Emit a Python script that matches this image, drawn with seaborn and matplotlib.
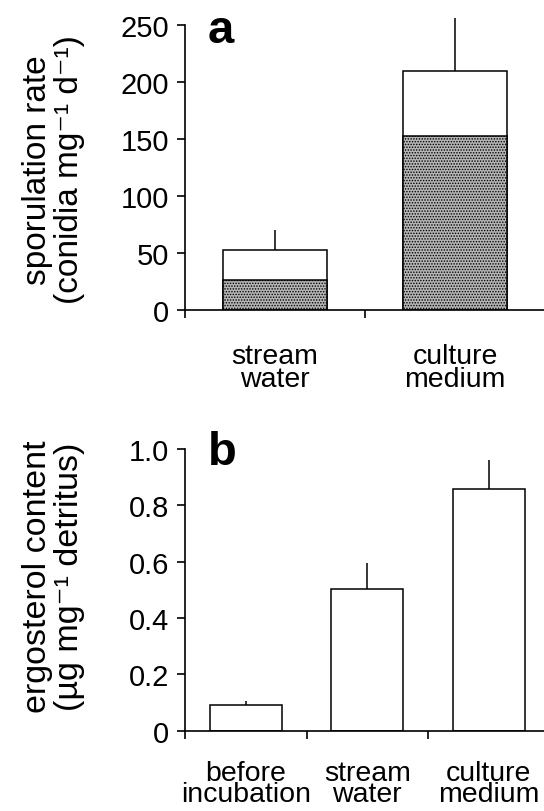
import numpy as np
import pandas as pd
import matplotlib
matplotlib.use("Agg")
import matplotlib.pyplot as plt
import seaborn as sns

# ---- data (panel a) ----
categories_a = ["stream\nwater", "culture\nmedium"]
total_a = [53, 210]          # total sporulation rate (white + shaded)
shaded_a = [26, 153]         # shaded (lower) portion
err_a = [17.5, 46]           # upper error
yticks_a = [0, 50, 100, 150, 200, 250]
yticklabels_a = ["0", "50", "100", "150", "200", "250"]

# ---- data (panel b) ----
categories_b = ["before\nincubation", "stream\nwater", "culture\nmedium"]
ergosterol_b = [0.091, 0.503, 0.858]
err_b = [0.016, 0.093, 0.102]
yticks_b = [0, 0.2, 0.4, 0.6, 0.8, 1.0]
yticklabels_b = ["0", "0.2", "0.4", "0.6", "0.8", "1.0"]

sns.set_theme(style="ticks")
plt.rcParams["font.family"] = ["Liberation Sans", "DejaVu Sans"]
plt.rcParams["hatch.linewidth"] = 0.7
plt.rcParams["hatch.color"] = "#222222"
for key in ["text.color", "axes.labelcolor", "xtick.color", "ytick.color", "axes.edgecolor"]:
    plt.rcParams[key] = "black"

fig = plt.figure(figsize=(5.44, 8.12), dpi=100)
W, H = 544.0, 812.0
ax_a = fig.add_axes([185 / W, 1 - 311 / H, 360 / W, 285 / H])
ax_b = fig.add_axes([185 / W, 1 - 731.7 / H, 364.5 / W, 281.7 / H])

LW = 1.2


def style_axis(ax, n, yticks, yticklabels, ymax, pad, ls):
    ax.set_xlim(-0.5, n - 0.5)
    ax.set_ylim(0, ymax)
    ax.set_yticks(yticks)
    ax.set_yticklabels(yticklabels, fontsize=21)
    ax.tick_params(axis="y", direction="out", length=5.5, width=LW, pad=6,
                   colors="black", labelcolor="black")
    ax.tick_params(axis="x", which="major", length=0, pad=pad, labelsize=20.5,
                   labelcolor="black")
    ax.set_xticks(np.arange(n) - 0.5, minor=True)
    ax.tick_params(axis="x", which="minor", direction="out", length=6, width=LW,
                   color="black")
    for lab in ax.get_xticklabels():
        lab.set_linespacing(ls)
        lab.set_multialignment("center")
    for s in ["top", "right"]:
        ax.spines[s].set_visible(False)
    for s in ["left", "bottom"]:
        ax.spines[s].set_linewidth(LW)
        ax.spines[s].set_color("black")
    ax.set_xlabel("")
    ax.set_facecolor("white")


# ---- panel a ----
df_a = pd.DataFrame({"cat": categories_a, "total": total_a, "shaded": shaded_a})
sns.barplot(data=df_a, x="cat", y="total", ax=ax_a, color="white", saturation=1,
            edgecolor="black", linewidth=1.1, width=0.58, errorbar=None)
sns.barplot(data=df_a, x="cat", y="shaded", ax=ax_a, color="#b5b5b5", saturation=1,
            edgecolor="black", linewidth=1.1, width=0.58, errorbar=None, hatch="......")
eb = ax_a.errorbar(np.arange(len(categories_a)), total_a,
                   yerr=[np.zeros(len(err_a)), err_a], fmt="none",
                   ecolor="black", elinewidth=1.1, capsize=0)
for c in eb.get_children():
    c.set_clip_on(False)
style_axis(ax_a, len(categories_a), yticks_a, yticklabels_a, 250, 23.5, 0.88)
ax_a.set_ylabel("sporulation rate\n(conidia mg\u207b\u00b9 d\u207b\u00b9)", fontsize=24,
                linespacing=1.05, color="black")
ax_a.yaxis.set_label_coords(-0.365, 0.495)
ax_a.yaxis.label.set_va("center")
ax_a.text(0.063, 0.94, "a", transform=ax_a.transAxes, fontsize=34,
          fontweight="bold", ha="left", va="baseline", color="black")

# ---- panel b ----
df_b = pd.DataFrame({"cat": categories_b, "erg": ergosterol_b})
sns.barplot(data=df_b, x="cat", y="erg", ax=ax_b, color="white", saturation=1,
            edgecolor="black", linewidth=1.1, width=0.59, errorbar=None)
eb = ax_b.errorbar(np.arange(len(categories_b)), ergosterol_b,
                   yerr=[np.zeros(len(err_b)), err_b], fmt="none",
                   ecolor="black", elinewidth=1.1, capsize=0)
for c in eb.get_children():
    c.set_clip_on(False)
style_axis(ax_b, len(categories_b), yticks_b, yticklabels_b, 1.0, 21, 0.78)
ax_b.set_ylabel("ergosterol content\n(\u00b5g mg\u207b\u00b9 detritus)", fontsize=24.5,
                linespacing=1.05, color="black")
ax_b.yaxis.set_label_coords(-0.36, 0.55)
ax_b.yaxis.label.set_va("center")
ax_b.text(0.063, 0.947, "b", transform=ax_b.transAxes, fontsize=34,
          fontweight="bold", ha="left", va="baseline", color="black")

fig.savefig("out.png", dpi=100, facecolor="white")
